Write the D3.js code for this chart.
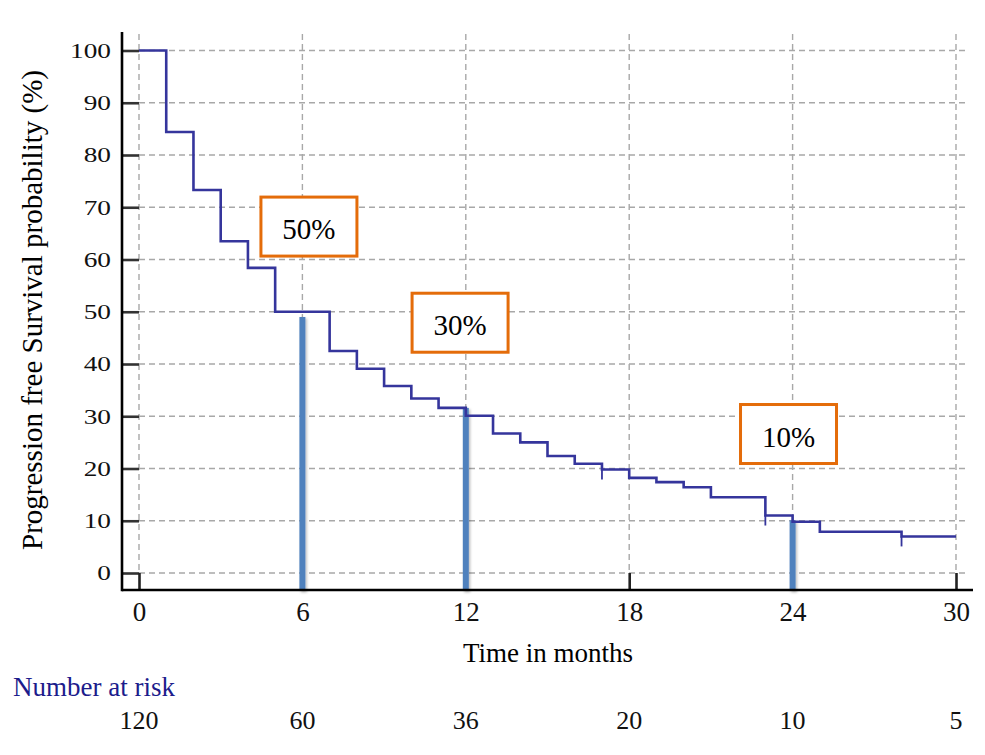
<!DOCTYPE html>
<html><head><meta charset="utf-8">
<script src="https://cdn.jsdelivr.net/npm/d3@7"></script>
<style>body{margin:0;background:#fff;} svg{display:block;font-family:"Liberation Serif","Times New Roman",serif;}</style>
</head><body><svg id="c" width="985" height="755"></svg>
<script>
// ---- data ----
const stepTimes  = [0,1,2,3,4,5,7,8,9,10,11,12,13,14,15,16,17,18,19,20,21,23,24,25,28,30];
const stepValues = [100,84.4,73.3,63.5,58.4,50,42.5,39.1,35.8,33.4,31.6,30.1,26.7,25.0,22.4,20.9,19.8,18.2,17.4,16.4,14.5,11.0,9.8,7.9,7.0,7.0];
const censorTimes  = [17,23,28];
const censorValues = [19.8,11.0,7.0];
const markerTimes  = [6,12,24];
const markerValues = [49,31.6,10.1];
const labelTexts  = ["50%","30%","10%"];
const labelTimes  = [6.24,11.79,23.85];
const labelValues = [66.3,47.9,26.6];
const xTicks = [0,6,12,18,24,30];
const yTicks = [0,10,20,30,40,50,60,70,80,90,100];
const riskTimes  = [0,6,12,18,24,30];
const riskCounts = [120,60,36,20,10,5];

// ---- layout ----
const svg = d3.select("#c");
const x = d3.scaleLinear().domain([0,30]).range([139,956]);
const y = d3.scaleLinear().domain([0,100]).range([573,50.5]);
const axisX = 122, axisY = 590, topY = 32, rightX = 973;

// grid
const grid = svg.append("g").attr("stroke","#a8a8a8").attr("stroke-width",1.4).attr("stroke-dasharray","6,4");
grid.selectAll("line.h").data(yTicks).join("line").attr("class","h")
  .attr("x1",x(0)).attr("x2",968).attr("y1",d=>y(d)).attr("y2",d=>y(d));
grid.selectAll("line.v").data(xTicks).join("line").attr("class","v")
  .attr("x1",d=>x(d)).attr("x2",d=>x(d)).attr("y1",topY+2).attr("y2",y(0));

// label boxes
const boxes = svg.append("g");
labelTexts.forEach((t,i)=>{
  const cx = x(labelTimes[i]), cy = y(labelValues[i]);
  boxes.append("rect").attr("x",cx-48).attr("y",cy-29.5).attr("width",96).attr("height",59)
    .attr("fill","#fff").attr("stroke","#e46c0a").attr("stroke-width",3);
  boxes.append("text").attr("x",cx).attr("y",cy+12.5).attr("text-anchor","middle")
    .attr("font-size",29).attr("fill","#000").text(t);
});

// axes
const yAxis = d3.axisLeft(y).tickValues(yTicks).tickSizeInner(-17).tickSizeOuter(0).tickPadding(11);
const gy = svg.append("g").attr("transform",`translate(${axisX},0)`).call(yAxis);
gy.attr("font-family",null);
gy.select(".domain").remove();
gy.selectAll(".tick line").attr("stroke","#333").attr("stroke-width",2.6);
gy.selectAll(".tick text").attr("font-family","Liberation Serif").attr("font-size",21.5).attr("fill","#111")
  .attr("x",0).attr("transform","translate(-11,0) scale(1.27,1)");

const xAxis = d3.axisBottom(x).tickValues(xTicks).tickSizeInner(-17).tickSizeOuter(0).tickPadding(12);
const gx = svg.append("g").attr("transform",`translate(0,${axisY})`).call(xAxis);
gx.attr("font-family",null);
gx.select(".domain").remove();
gx.selectAll(".tick line").attr("stroke","#222").attr("stroke-width",2.6);
gx.selectAll(".tick text").attr("font-family","Liberation Serif").attr("font-size",27).attr("fill","#111");

// marker bars
const defs = svg.append("defs");
const f = defs.append("filter").attr("id","sh").attr("filterUnits","userSpaceOnUse")
  .attr("x",0).attr("y",0).attr("width",985).attr("height",755);
f.append("feDropShadow").attr("dx",1.5).attr("dy",1.5).attr("stdDeviation",1.2).attr("flood-color","#000").attr("flood-opacity",0.25);
svg.append("g").selectAll("rect").data(markerTimes).join("rect")
  .attr("x",d=>x(d)-3).attr("width",6)
  .attr("y",(d,i)=>y(markerValues[i])).attr("height",(d,i)=>axisY+1-y(markerValues[i]))
  .attr("fill","#4f81bd").attr("filter","url(#sh)");

// axis lines
svg.append("line").attr("x1",axisX).attr("x2",axisX).attr("y1",topY).attr("y2",axisY+1.3)
  .attr("stroke","#000").attr("stroke-width",2.6);
svg.append("line").attr("x1",axisX).attr("x2",rightX).attr("y1",axisY).attr("y2",axisY)
  .attr("stroke","#000").attr("stroke-width",2.6);

// survival step curve
const pts = stepTimes.map((t,i)=>[t,stepValues[i]]);
const line = d3.line().x(d=>x(d[0])).y(d=>y(d[1])).curve(d3.curveStepAfter);
svg.append("path").attr("d",line(pts)).attr("fill","none").attr("stroke","#35359c").attr("stroke-width",2.6);
svg.append("g").selectAll("line").data(censorTimes).join("line")
  .attr("x1",d=>x(d)).attr("x2",d=>x(d)).attr("y1",(d,i)=>y(censorValues[i])).attr("y2",(d,i)=>y(censorValues[i])+10)
  .attr("stroke","#35359c").attr("stroke-width",1.8);

// titles
svg.append("text").attr("transform","translate(42,310) rotate(-90)").attr("text-anchor","middle")
  .attr("font-size",29).attr("fill","#000").text("Progression free Survival probability (%)");
svg.append("text").attr("x",548).attr("y",662).attr("text-anchor","middle")
  .attr("font-size",27).attr("fill","#000").text("Time in months");
svg.append("text").attr("x",13).attr("y",696).attr("font-size",27).attr("fill","#1c1c8c").text("Number at risk");
svg.append("g").selectAll("text").data(riskTimes).join("text")
  .attr("x",d=>x(d)).attr("y",729).attr("text-anchor","middle").attr("font-size",26).attr("fill","#111")
  .text((d,i)=>riskCounts[i]);
</script></body></html>
